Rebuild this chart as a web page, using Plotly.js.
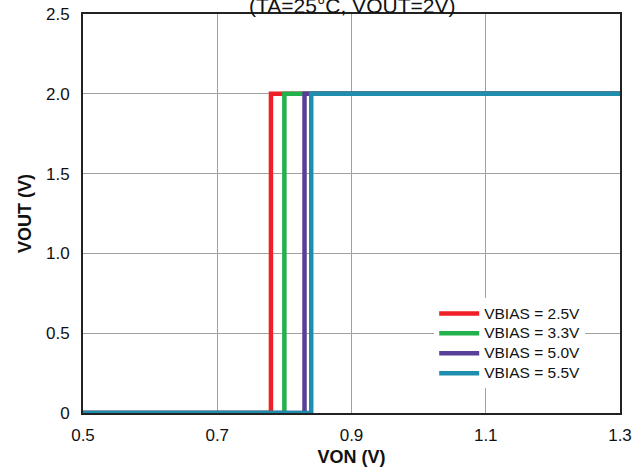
<!DOCTYPE html>
<html>
<head>
<meta charset="utf-8">
<script src="https://cdn.plot.ly/plotly-3.0.1.min.js"></script>
<style>
  html, body { margin: 0; padding: 0; background: #fff; }
  #chart { width: 644px; height: 471px; }
</style>
</head>
<body>
<div id="chart"></div>
<script>
// VOUT vs VON turn-on steps for each bias voltage
const seriesNames = ['VBIAS = 2.5V', 'VBIAS = 3.3V', 'VBIAS = 5.0V', 'VBIAS = 5.5V'];
const seriesColors = ['#ee1f26', '#22b24c', '#5a3f98', '#1f8dac'];
const vonRed    = [0.5, 0.78, 0.78, 1.3];
const vonGreen  = [0.5, 0.80, 0.80, 1.3];
const vonPurple = [0.5, 0.83, 0.83, 1.3];
const vonBlue   = [0.5, 0.84, 0.84, 1.3];
const voutStep  = [0, 0, 2, 2];

const xTicks = [0.5, 0.7, 0.9, 1.1, 1.3];
const xTickText = ['0.5', '0.7', '0.9', '1.1', '1.3'];
const yTicks = [0, 0.5, 1.0, 1.5, 2.0, 2.5];
const yTickText = ['0', '0.5', '1.0', '1.5', '2.0', '2.5'];

// legend rows are packed tighter than the label size would normally give,
// so the row height follows a small legend font and the label text is enlarged inline
const vonSeries = [vonRed, vonGreen, vonPurple, vonBlue];
const traces = vonSeries.map((xs, i) => ({
  x: xs,
  y: voutStep,
  type: 'scatter',
  mode: 'lines',
  name: '<span style="font-size:15.5px">' + seriesNames[i] + '</span>',
  line: { color: seriesColors[i], width: 4.5, shape: 'linear' },
  cliponaxis: false
}));

const font = 'Liberation Sans, Arial, sans-serif';

const layout = {
  width: 644,
  height: 471,
  margin: { l: 83, r: 24, t: 14, b: 58 },
  paper_bgcolor: '#ffffff',
  plot_bgcolor: '#ffffff',
  font: { family: font, size: 17, color: '#111' },
  showlegend: true,
  legend: {
    x: 0.654, y: 0.287, xanchor: 'left', yanchor: 'top',
    bgcolor: '#ffffff',
    borderwidth: 0,
    itemwidth: 40,
    font: { family: font, size: 13, color: '#111' },
    tracegroupgap: 0
  },
  xaxis: {
    range: [0.5, 1.3],
    tickvals: xTicks,
    ticktext: xTickText,
    showgrid: true,
    gridcolor: '#a0a0a0',
    gridwidth: 1,
    zeroline: false,
    showline: true,
    linecolor: '#222',
    linewidth: 2,
    mirror: true,
    ticks: '',
    ticklen: 0,
    ticklabelstandoff: 6,
    tickfont: { family: font, size: 17, color: '#111' },
    title: { text: '<b>VON (V)</b>', font: { family: font, size: 18, color: '#111' }, standoff: 6 }
  },
  yaxis: {
    range: [0, 2.5],
    tickvals: yTicks,
    ticktext: yTickText,
    showgrid: true,
    gridcolor: '#a0a0a0',
    gridwidth: 1,
    zeroline: false,
    showline: true,
    linecolor: '#222',
    linewidth: 2,
    mirror: true,
    ticks: '',
    ticklen: 0,
    ticklabelstandoff: 8,
    tickfont: { family: font, size: 17, color: '#111' },
    title: { text: '<b>VOUT (V)</b>', font: { family: font, size: 18, color: '#111' }, standoff: 10 }
  },
  annotations: [{
    text: '(TA=25°C, VOUT=2V)',
    xref: 'paper', yref: 'paper',
    x: 0.5, y: 1,
    xanchor: 'center', yanchor: 'bottom',
    yshift: -5,
    showarrow: false,
    font: { family: font, size: 21, color: '#111' }
  }]
};

Plotly.newPlot('chart', traces, layout, { displayModeBar: false, staticPlot: true });
</script>
</body>
</html>
